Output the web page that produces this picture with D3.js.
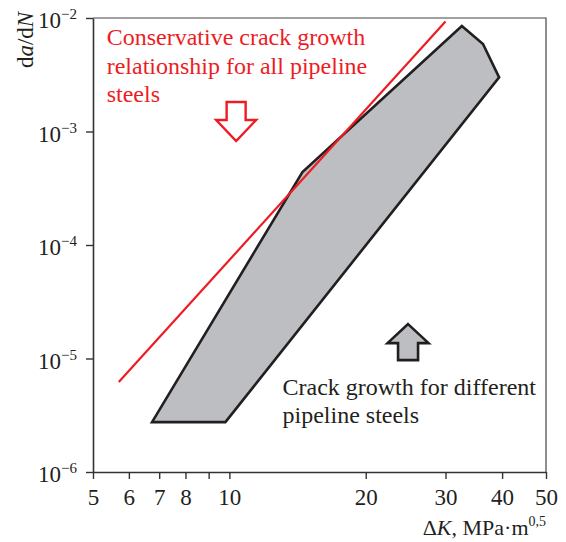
<!DOCTYPE html>
<html>
<head>
<meta charset="utf-8">
<script src="https://cdn.jsdelivr.net/npm/d3@7"></script>
<style>
  body { margin: 0; background: #fff; }
  text { font-family: "Liberation Serif", "Times New Roman", serif; }
</style>
</head>
<body>
<div id="content"></div>
<script>
// data
var xTicks = [5, 6, 7, 8, 9, 10, 20, 30, 40, 50];
var xTickLabels = ['5', '6', '7', '8', '', '10', '20', '30', '40', '50'];
var yTicks = [1e-6, 1e-5, 1e-4, 1e-3, 1e-2];
var yTickExps = ['−6', '−5', '−4', '−3', '−2'];

// scatter band of pipeline steels (polygon corners)
var bandK = [6.75, 9.8, 39.4, 36.3, 32.6, 14.5];
var bandRate = [2.75e-6, 2.75e-6, 3.0e-3, 5.9e-3, 8.5e-3, 4.4e-4];

// conservative relationship (straight line in log-log)
var lineK = [5.7, 30];
var lineRate = [6.2e-6, 9.3e-3];

var width = 566, height = 542;
var margin = {left: 93, right: 20, top: 18, bottom: 70};

var svg = d3.select('#content').append('svg')
  .attr('width', width)
  .attr('height', height);

var x = d3.scaleLog().domain([5, 50]).range([margin.left, width - margin.right]);
var y = d3.scaleLog().domain([1e-6, 1e-2]).range([height - margin.bottom, margin.top]);

var ink = '#231f20';
var red = '#ed1c24';

// frame: top and right thin
svg.append('path')
  .attr('d', 'M' + x(5) + ',' + y(1e-2) + 'H' + x(50) + 'V' + y(1e-6))
  .attr('fill', 'none')
  .attr('stroke', '#444')
  .attr('stroke-width', 1.2);

// band
var band = bandK.map(function(k, i){ return [x(k), y(bandRate[i])]; });
svg.append('path')
  .attr('d', d3.line()(band) + 'Z')
  .attr('fill', '#bdbec1')
  .attr('stroke', ink)
  .attr('stroke-width', 2.6)
  .attr('stroke-linejoin', 'miter');

// red line
svg.append('path')
  .attr('d', d3.line()(lineK.map(function(k, i){ return [x(k), y(lineRate[i])]; })))
  .attr('fill', 'none')
  .attr('stroke', red)
  .attr('stroke-width', 2.2);

// axes
var xAxis = d3.axisBottom(x)
  .tickValues(xTicks)
  .tickFormat(function(d, i){ return xTickLabels[i]; })
  .tickSizeInner(7).tickSizeOuter(0).tickPadding(10);
var gx = svg.append('g')
  .attr('transform', 'translate(0,' + y(1e-6) + ')')
  .call(xAxis);
gx.select('.domain').attr('stroke', '#333').attr('stroke-width', 1.6);
gx.selectAll('line').attr('stroke', '#333').attr('stroke-width', 1.4);
gx.selectAll('text')
  .attr('font-size', 23)
  .attr('fill', ink)
  .attr('font-family', '"Liberation Serif", serif');

var yAxis = d3.axisLeft(y)
  .tickValues(yTicks)
  .tickFormat('')
  .tickSizeInner(7).tickSizeOuter(0);
var gy = svg.append('g')
  .attr('transform', 'translate(' + x(5) + ',0)')
  .call(yAxis);
gy.select('.domain').attr('stroke', '#333').attr('stroke-width', 1.6);
gy.selectAll('line').attr('stroke', '#333').attr('stroke-width', 1.4);

// y tick labels with superscripts
yTicks.forEach(function(v, i){
  var t = svg.append('text')
    .attr('x', x(5) - 16)
    .attr('y', y(v) + 10)
    .attr('text-anchor', 'end')
    .attr('font-size', 23)
    .attr('fill', ink);
  t.append('tspan').text('10');
  t.append('tspan')
    .attr('dy', -9)
    .attr('font-size', 15)
    .text(yTickExps[i]);
});

// axis titles
var yl = svg.append('text')
  .attr('transform', 'translate(33,' + 40 + ') rotate(-90)')
  .attr('text-anchor', 'middle')
  .attr('font-size', 23)
  .attr('fill', ink);
yl.append('tspan').text('d');
yl.append('tspan').attr('font-style', 'italic').text('a');
yl.append('tspan').text('/d');
yl.append('tspan').attr('font-style', 'italic').text('N');

var xl = svg.append('text')
  .attr('x', x(50))
  .attr('y', 535)
  .attr('text-anchor', 'end')
  .attr('font-size', 22)
  .attr('fill', ink);
xl.append('tspan').text('Δ');
xl.append('tspan').attr('font-style', 'italic').text('K');
xl.append('tspan').text(', MPa·m');
xl.append('tspan').attr('dy', -9).attr('font-size', 14).text('0,5');

// annotations
var redNote = ['Conservative crack growth', 'relationship for all pipeline', 'steels'];
redNote.forEach(function(s, i){
  svg.append('text')
    .attr('x', x(5.36))
    .attr('y', y(5.78e-3) + i * 28.5)
    .attr('font-size', 24)
    .attr('fill', red)
    .text(s);
});

var blackNote = ['Crack growth for different', 'pipeline steels'];
blackNote.forEach(function(s, i){
  svg.append('text')
    .attr('x', x(13.1))
    .attr('y', y(4.77e-6) + i * 28)
    .attr('font-size', 24)
    .attr('fill', ink)
    .text(s);
});

// block arrows
function blockArrow(cx, ty, dir, headW, shaftW, len, headLen){
  // dir = 1 pointing down (ty = top of shaft), -1 pointing up (ty = tip)
  var pts;
  if(dir > 0){
    pts = [[cx - shaftW, ty], [cx + shaftW, ty], [cx + shaftW, ty + len - headLen],
      [cx + headW, ty + len - headLen], [cx, ty + len], [cx - headW, ty + len - headLen],
      [cx - shaftW, ty + len - headLen]];
  }else{
    pts = [[cx, ty], [cx + headW, ty + headLen], [cx + shaftW, ty + headLen],
      [cx + shaftW, ty + len], [cx - shaftW, ty + len], [cx - shaftW, ty + headLen],
      [cx - headW, ty + headLen]];
  }
  return d3.line()(pts) + 'Z';
}
svg.append('path')
  .attr('d', blockArrow(x(10.35), y(1.82e-3), 1, 20, 9.5, 39, 21))
  .attr('fill', '#fff')
  .attr('stroke', red)
  .attr('stroke-width', 2.4);
svg.append('path')
  .attr('d', blockArrow(x(24.8), y(2.01e-5), -1, 20.5, 10, 36, 19))
  .attr('fill', '#bdbec1')
  .attr('stroke', ink)
  .attr('stroke-width', 2.6);
</script>
</body>
</html>
